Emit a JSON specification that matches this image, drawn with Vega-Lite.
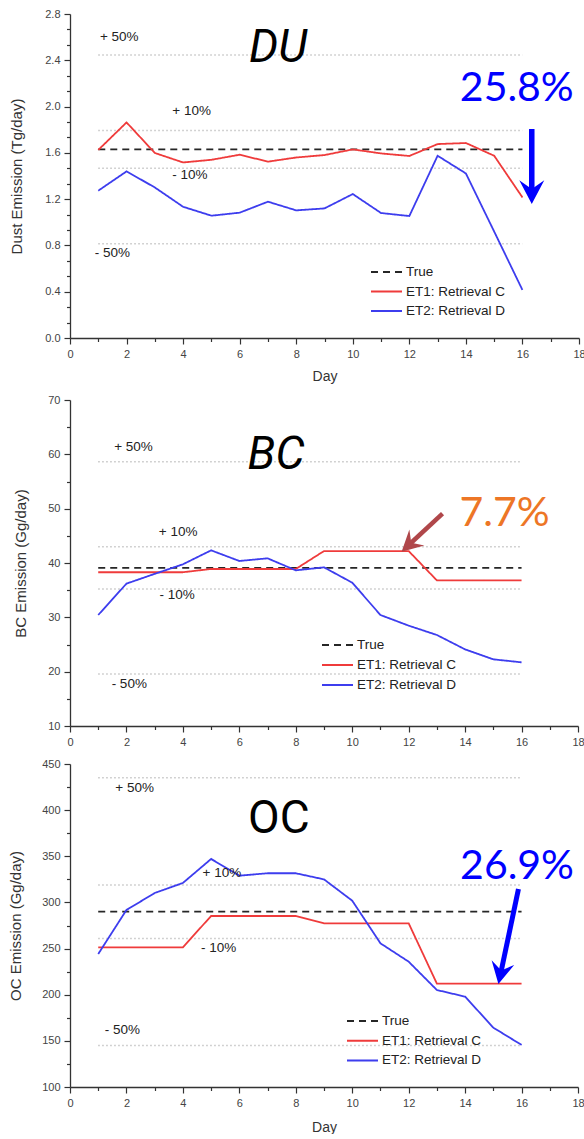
{
  "$schema": "https://vega.github.io/schema/vega-lite/v6.json",
  "padding": {"left": 8, "top": 8, "right": 0, "bottom": 0},
  "background": "white",
  "config": {
    "view": {"stroke": null},
    "axis": {"grid": false, "labelFont": "Liberation Sans", "labelFontSize": 11, "labelColor": "#444", "titleFont": "Liberation Sans", "titleFontWeight": "normal", "titleColor": "#333", "domainColor": "#333", "tickColor": "#333", "domainWidth": 1.3, "tickWidth": 1.2}
  },
  "datasets": {
    "lines": [
      {"panel": "DU", "series": "True", "day": 1, "value": 1.63},
      {"panel": "DU", "series": "True", "day": 16, "value": 1.63},
      {"panel": "DU", "series": "ET1: Retrieval C", "day": 1, "value": 1.625},
      {"panel": "DU", "series": "ET1: Retrieval C", "day": 2, "value": 1.863},
      {"panel": "DU", "series": "ET1: Retrieval C", "day": 3, "value": 1.599},
      {"panel": "DU", "series": "ET1: Retrieval C", "day": 4, "value": 1.517},
      {"panel": "DU", "series": "ET1: Retrieval C", "day": 5, "value": 1.54},
      {"panel": "DU", "series": "ET1: Retrieval C", "day": 6, "value": 1.584},
      {"panel": "DU", "series": "ET1: Retrieval C", "day": 7, "value": 1.524},
      {"panel": "DU", "series": "ET1: Retrieval C", "day": 8, "value": 1.56},
      {"panel": "DU", "series": "ET1: Retrieval C", "day": 9, "value": 1.581},
      {"panel": "DU", "series": "ET1: Retrieval C", "day": 10, "value": 1.63},
      {"panel": "DU", "series": "ET1: Retrieval C", "day": 11, "value": 1.595},
      {"panel": "DU", "series": "ET1: Retrieval C", "day": 12, "value": 1.573},
      {"panel": "DU", "series": "ET1: Retrieval C", "day": 13, "value": 1.676},
      {"panel": "DU", "series": "ET1: Retrieval C", "day": 14, "value": 1.685},
      {"panel": "DU", "series": "ET1: Retrieval C", "day": 15, "value": 1.575},
      {"panel": "DU", "series": "ET1: Retrieval C", "day": 16, "value": 1.215},
      {"panel": "DU", "series": "ET2: Retrieval D", "day": 1, "value": 1.273},
      {"panel": "DU", "series": "ET2: Retrieval D", "day": 2, "value": 1.44},
      {"panel": "DU", "series": "ET2: Retrieval D", "day": 3, "value": 1.301},
      {"panel": "DU", "series": "ET2: Retrieval D", "day": 4, "value": 1.134},
      {"panel": "DU", "series": "ET2: Retrieval D", "day": 5, "value": 1.057},
      {"panel": "DU", "series": "ET2: Retrieval D", "day": 6, "value": 1.083},
      {"panel": "DU", "series": "ET2: Retrieval D", "day": 7, "value": 1.178},
      {"panel": "DU", "series": "ET2: Retrieval D", "day": 8, "value": 1.103},
      {"panel": "DU", "series": "ET2: Retrieval D", "day": 9, "value": 1.12},
      {"panel": "DU", "series": "ET2: Retrieval D", "day": 10, "value": 1.244},
      {"panel": "DU", "series": "ET2: Retrieval D", "day": 11, "value": 1.08},
      {"panel": "DU", "series": "ET2: Retrieval D", "day": 12, "value": 1.054},
      {"panel": "DU", "series": "ET2: Retrieval D", "day": 13, "value": 1.575},
      {"panel": "DU", "series": "ET2: Retrieval D", "day": 14, "value": 1.422},
      {"panel": "DU", "series": "ET2: Retrieval D", "day": 15, "value": 0.92},
      {"panel": "DU", "series": "ET2: Retrieval D", "day": 16, "value": 0.415},
      {"panel": "BC", "series": "True", "day": 1, "value": 39.1},
      {"panel": "BC", "series": "True", "day": 16, "value": 39.1},
      {"panel": "BC", "series": "ET1: Retrieval C", "day": 1, "value": 38.3},
      {"panel": "BC", "series": "ET1: Retrieval C", "day": 2, "value": 38.3},
      {"panel": "BC", "series": "ET1: Retrieval C", "day": 3, "value": 38.3},
      {"panel": "BC", "series": "ET1: Retrieval C", "day": 4, "value": 38.3},
      {"panel": "BC", "series": "ET1: Retrieval C", "day": 5, "value": 38.9},
      {"panel": "BC", "series": "ET1: Retrieval C", "day": 6, "value": 38.9},
      {"panel": "BC", "series": "ET1: Retrieval C", "day": 7, "value": 38.9},
      {"panel": "BC", "series": "ET1: Retrieval C", "day": 8, "value": 38.9},
      {"panel": "BC", "series": "ET1: Retrieval C", "day": 9, "value": 42.2},
      {"panel": "BC", "series": "ET1: Retrieval C", "day": 10, "value": 42.2},
      {"panel": "BC", "series": "ET1: Retrieval C", "day": 11, "value": 42.2},
      {"panel": "BC", "series": "ET1: Retrieval C", "day": 12, "value": 42.2},
      {"panel": "BC", "series": "ET1: Retrieval C", "day": 13, "value": 36.8},
      {"panel": "BC", "series": "ET1: Retrieval C", "day": 14, "value": 36.8},
      {"panel": "BC", "series": "ET1: Retrieval C", "day": 15, "value": 36.8},
      {"panel": "BC", "series": "ET1: Retrieval C", "day": 16, "value": 36.8},
      {"panel": "BC", "series": "ET2: Retrieval D", "day": 1, "value": 30.43},
      {"panel": "BC", "series": "ET2: Retrieval D", "day": 2, "value": 36.2},
      {"panel": "BC", "series": "ET2: Retrieval D", "day": 3, "value": 38.0},
      {"panel": "BC", "series": "ET2: Retrieval D", "day": 4, "value": 39.76},
      {"panel": "BC", "series": "ET2: Retrieval D", "day": 5, "value": 42.33},
      {"panel": "BC", "series": "ET2: Retrieval D", "day": 6, "value": 40.37},
      {"panel": "BC", "series": "ET2: Retrieval D", "day": 7, "value": 40.86},
      {"panel": "BC", "series": "ET2: Retrieval D", "day": 8, "value": 38.65},
      {"panel": "BC", "series": "ET2: Retrieval D", "day": 9, "value": 39.2},
      {"panel": "BC", "series": "ET2: Retrieval D", "day": 10, "value": 36.38},
      {"panel": "BC", "series": "ET2: Retrieval D", "day": 11, "value": 30.43},
      {"panel": "BC", "series": "ET2: Retrieval D", "day": 12, "value": 28.47},
      {"panel": "BC", "series": "ET2: Retrieval D", "day": 13, "value": 26.75},
      {"panel": "BC", "series": "ET2: Retrieval D", "day": 14, "value": 24.1},
      {"panel": "BC", "series": "ET2: Retrieval D", "day": 15, "value": 22.27},
      {"panel": "BC", "series": "ET2: Retrieval D", "day": 16, "value": 21.72},
      {"panel": "OC", "series": "True", "day": 1, "value": 290},
      {"panel": "OC", "series": "True", "day": 16, "value": 290},
      {"panel": "OC", "series": "ET1: Retrieval C", "day": 1, "value": 251.4},
      {"panel": "OC", "series": "ET1: Retrieval C", "day": 2, "value": 251.4},
      {"panel": "OC", "series": "ET1: Retrieval C", "day": 3, "value": 251.4},
      {"panel": "OC", "series": "ET1: Retrieval C", "day": 4, "value": 251.4},
      {"panel": "OC", "series": "ET1: Retrieval C", "day": 5, "value": 285.3},
      {"panel": "OC", "series": "ET1: Retrieval C", "day": 6, "value": 285.3},
      {"panel": "OC", "series": "ET1: Retrieval C", "day": 7, "value": 285.3},
      {"panel": "OC", "series": "ET1: Retrieval C", "day": 8, "value": 285.3},
      {"panel": "OC", "series": "ET1: Retrieval C", "day": 9, "value": 277.4},
      {"panel": "OC", "series": "ET1: Retrieval C", "day": 10, "value": 277.4},
      {"panel": "OC", "series": "ET1: Retrieval C", "day": 11, "value": 277.4},
      {"panel": "OC", "series": "ET1: Retrieval C", "day": 12, "value": 277.4},
      {"panel": "OC", "series": "ET1: Retrieval C", "day": 13, "value": 212},
      {"panel": "OC", "series": "ET1: Retrieval C", "day": 14, "value": 212},
      {"panel": "OC", "series": "ET1: Retrieval C", "day": 15, "value": 212},
      {"panel": "OC", "series": "ET1: Retrieval C", "day": 16, "value": 212},
      {"panel": "OC", "series": "ET2: Retrieval D", "day": 1, "value": 244.1},
      {"panel": "OC", "series": "ET2: Retrieval D", "day": 2, "value": 291.8},
      {"panel": "OC", "series": "ET2: Retrieval D", "day": 3, "value": 310.2},
      {"panel": "OC", "series": "ET2: Retrieval D", "day": 4, "value": 321.1},
      {"panel": "OC", "series": "ET2: Retrieval D", "day": 5, "value": 347.1},
      {"panel": "OC", "series": "ET2: Retrieval D", "day": 6, "value": 329},
      {"panel": "OC", "series": "ET2: Retrieval D", "day": 7, "value": 331.6},
      {"panel": "OC", "series": "ET2: Retrieval D", "day": 8, "value": 331.6},
      {"panel": "OC", "series": "ET2: Retrieval D", "day": 9, "value": 325},
      {"panel": "OC", "series": "ET2: Retrieval D", "day": 10, "value": 301.9},
      {"panel": "OC", "series": "ET2: Retrieval D", "day": 11, "value": 255.7},
      {"panel": "OC", "series": "ET2: Retrieval D", "day": 12, "value": 235.8},
      {"panel": "OC", "series": "ET2: Retrieval D", "day": 13, "value": 205.1},
      {"panel": "OC", "series": "ET2: Retrieval D", "day": 14, "value": 197.9},
      {"panel": "OC", "series": "ET2: Retrieval D", "day": 15, "value": 164.3},
      {"panel": "OC", "series": "ET2: Retrieval D", "day": 16, "value": 145.6}
    ],
    "refs": [
      {"panel": "DU", "level": "+50%", "day": 1, "value": 2.445},
      {"panel": "DU", "level": "+50%", "day": 16, "value": 2.445},
      {"panel": "DU", "level": "+10%", "day": 1, "value": 1.793},
      {"panel": "DU", "level": "+10%", "day": 16, "value": 1.793},
      {"panel": "DU", "level": "-10%", "day": 1, "value": 1.467},
      {"panel": "DU", "level": "-10%", "day": 16, "value": 1.467},
      {"panel": "DU", "level": "-50%", "day": 1, "value": 0.815},
      {"panel": "DU", "level": "-50%", "day": 16, "value": 0.815},
      {"panel": "BC", "level": "+50%", "day": 1, "value": 58.65},
      {"panel": "BC", "level": "+50%", "day": 16, "value": 58.65},
      {"panel": "BC", "level": "+10%", "day": 1, "value": 43.0},
      {"panel": "BC", "level": "+10%", "day": 16, "value": 43.0},
      {"panel": "BC", "level": "-10%", "day": 1, "value": 35.2},
      {"panel": "BC", "level": "-10%", "day": 16, "value": 35.2},
      {"panel": "BC", "level": "-50%", "day": 1, "value": 19.55},
      {"panel": "BC", "level": "-50%", "day": 16, "value": 19.55},
      {"panel": "OC", "level": "+50%", "day": 1, "value": 435},
      {"panel": "OC", "level": "+50%", "day": 16, "value": 435},
      {"panel": "OC", "level": "+10%", "day": 1, "value": 319},
      {"panel": "OC", "level": "+10%", "day": 16, "value": 319},
      {"panel": "OC", "level": "-10%", "day": 1, "value": 261},
      {"panel": "OC", "level": "-10%", "day": 16, "value": 261},
      {"panel": "OC", "level": "-50%", "day": 1, "value": 145},
      {"panel": "OC", "level": "-50%", "day": 16, "value": 145}
    ]
  },
  "columns": 1,
  "spacing": 11,
  "resolve": {"scale": {"color": "independent", "strokeDash": "independent"}, "legend": {"color": "independent", "strokeDash": "independent"}},
  "concat": [
    {
      "width": 509, "height": 324,
      "resolve": {"axis": {"x": "independent", "y": "independent"}},
      "layer": [
        {
          "data": {"name": "refs"},
          "transform": [{"filter": "datum.panel === 'DU'"}],
          "mark": {"type": "line", "color": "#c4c4c4", "strokeWidth": 1.5, "strokeDash": [1.5, 2.5]},
          "encoding": {
            "x": {"field": "day", "type": "quantitative", "scale": {"domain": [0, 18], "nice": false, "zero": false}, "axis": {"orient": "bottom", "values": [1, 3, 5, 7, 9, 11, 13, 15, 17], "labels": false, "domain": false, "tickSize": 3.5, "title": null}},
            "y": {"field": "value", "type": "quantitative", "scale": {"domain": [0, 2.8], "nice": false, "zero": false}, "axis": {"orient": "left", "values": [0.1333, 0.2667, 0.5333, 0.6667, 0.9333, 1.0667, 1.3333, 1.4667, 1.7333, 1.8667, 2.1333, 2.2667, 2.5333, 2.6667], "labels": false, "domain": false, "tickSize": 3.5, "title": null}},
            "detail": {"field": "level"}
          }
        },
        {
          "layer": [
            {
              "data": {"name": "lines"},
              "transform": [{"filter": "datum.panel === 'DU'"}],
              "mark": {"type": "line", "strokeWidth": 1.8},
              "encoding": {
                "x": {"field": "day", "type": "quantitative", "scale": {"domain": [0, 18], "nice": false, "zero": false}, "axis": {"orient": "bottom", "values": [0, 2, 4, 6, 8, 10, 12, 14, 16, 18], "format": "d", "labelFlush": false, "tickSize": 6, "labelPadding": 4, "title": "Day", "titleFontSize": 14, "titlePadding": 10}},
                "y": {"field": "value", "type": "quantitative", "scale": {"domain": [0, 2.8], "nice": false, "zero": false}, "axis": {"orient": "left", "values": [0, 0.4, 0.8, 1.2, 1.6, 2.0, 2.4, 2.8], "format": ".1f", "tickSize": 6, "labelPadding": 4, "title": "Dust Emission (Tg/day)", "titleFontSize": 15, "titlePadding": 20}},
                "color": {"field": "series", "type": "nominal", "scale": {"domain": ["True", "ET1: Retrieval C", "ET2: Retrieval D"], "range": ["#262626", "#EF3B3B", "#3D3DEE"]}, "legend": {"orient": "none", "legendX": 300, "legendY": 251, "title": null, "symbolType": "stroke", "symbolSize": 961, "symbolStrokeWidth": 2, "clipHeight": 14, "rowPadding": 5.5, "labelFont": "Liberation Sans", "labelFontSize": 13.5, "labelColor": "#222", "labelOffset": 3, "padding": 0}},
                "strokeDash": {"field": "series", "type": "nominal", "scale": {"domain": ["True", "ET1: Retrieval C", "ET2: Retrieval D"], "range": [[7, 5], [1, 0], [1, 0]]}, "legend": {"orient": "none", "legendX": 300, "legendY": 251, "title": null, "symbolType": "stroke", "symbolSize": 961, "symbolStrokeWidth": 2, "clipHeight": 14, "rowPadding": 5.5, "labelFont": "Liberation Sans", "labelFontSize": 13.5, "labelColor": "#222", "labelOffset": 3, "padding": 0}}
              }
            },
            {"data": {"values": [{}]}, "mark": {"type": "text", "font": "Roboto", "fontSize": 46, "fontStyle": "italic", "color": "#000", "align": "center", "baseline": "middle"}, "encoding": {"x": {"datum": 7.36}, "y": {"datum": 2.51}, "text": {"value": "DU"}}},
            {"data": {"values": [{}]}, "mark": {"type": "text", "font": "Liberation Sans", "fontSize": 13.5, "color": "#222", "align": "center", "baseline": "middle"}, "encoding": {"x": {"datum": 1.74}, "y": {"datum": 2.604}, "text": {"value": "+ 50%"}}},
            {"data": {"values": [{}]}, "mark": {"type": "text", "font": "Liberation Sans", "fontSize": 13.5, "color": "#222", "align": "center", "baseline": "middle"}, "encoding": {"x": {"datum": 4.3}, "y": {"datum": 1.962}, "text": {"value": "+ 10%"}}},
            {"data": {"values": [{}]}, "mark": {"type": "text", "font": "Liberation Sans", "fontSize": 13.5, "color": "#222", "align": "center", "baseline": "middle"}, "encoding": {"x": {"datum": 4.24}, "y": {"datum": 1.408}, "text": {"value": "- 10%"}}},
            {"data": {"values": [{}]}, "mark": {"type": "text", "font": "Liberation Sans", "fontSize": 13.5, "color": "#222", "align": "center", "baseline": "middle"}, "encoding": {"x": {"datum": 1.5}, "y": {"datum": 0.732}, "text": {"value": "- 50%"}}},
            {"data": {"values": [{}]}, "mark": {"type": "text", "font": "Lato", "fontSize": 41, "color": "#0000FF", "align": "center", "baseline": "middle"}, "encoding": {"x": {"datum": 15.8}, "y": {"datum": 2.152}, "text": {"value": "25.8%"}}},
            {"data": {"values": [{}]}, "mark": {"type": "rule", "color": "#0000FF", "strokeWidth": 5.5}, "encoding": {"x": {"datum": 16.33}, "y": {"datum": 1.806}, "x2": {"datum": 16.33}, "y2": {"datum": 1.26}}},
            {"data": {"values": [{}]}, "mark": {"type": "point", "shape": "M0,0L-1,-1.9L0,-1.2L1,-1.9Z", "filled": true, "opacity": 1, "strokeWidth": 0, "size": 625, "color": "#0000FF", "angle": 0}, "encoding": {"x": {"datum": 16.33}, "y": {"datum": 1.158}}}
          ]
        }
      ]
    },
    {
      "width": 508, "height": 326,
      "resolve": {"axis": {"x": "independent", "y": "independent"}},
      "layer": [
        {
          "data": {"name": "refs"},
          "transform": [{"filter": "datum.panel === 'BC'"}],
          "mark": {"type": "line", "color": "#c4c4c4", "strokeWidth": 1.5, "strokeDash": [1.5, 2.5]},
          "encoding": {
            "x": {"field": "day", "type": "quantitative", "scale": {"domain": [0, 18], "nice": false, "zero": false}, "axis": {"orient": "bottom", "values": [1, 3, 5, 7, 9, 11, 13, 15, 17], "labels": false, "domain": false, "tickSize": 3.5, "title": null}},
            "y": {"field": "value", "type": "quantitative", "scale": {"domain": [10, 70], "nice": false, "zero": false}, "axis": {"orient": "left", "values": [15, 25, 35, 45, 55, 65], "labels": false, "domain": false, "tickSize": 3.5, "title": null}},
            "detail": {"field": "level"}
          }
        },
        {
          "layer": [
            {
              "data": {"name": "lines"},
              "transform": [{"filter": "datum.panel === 'BC'"}],
              "mark": {"type": "line", "strokeWidth": 1.8},
              "encoding": {
                "x": {"field": "day", "type": "quantitative", "scale": {"domain": [0, 18], "nice": false, "zero": false}, "axis": {"orient": "bottom", "values": [0, 2, 4, 6, 8, 10, 12, 14, 16, 18], "format": "d", "labelFlush": false, "tickSize": 6, "labelPadding": 4, "title": null}},
                "y": {"field": "value", "type": "quantitative", "scale": {"domain": [10, 70], "nice": false, "zero": false}, "axis": {"orient": "left", "values": [10, 20, 30, 40, 50, 60, 70], "format": "d", "tickSize": 6, "labelPadding": 4, "title": "BC Emission (Gg/day)", "titleFontSize": 15, "titlePadding": 19}},
                "color": {"field": "series", "type": "nominal", "scale": {"domain": ["True", "ET1: Retrieval C", "ET2: Retrieval D"], "range": ["#262626", "#EF3B3B", "#3D3DEE"]}, "legend": {"orient": "none", "legendX": 251, "legendY": 238, "title": null, "symbolType": "stroke", "symbolSize": 961, "symbolStrokeWidth": 2, "clipHeight": 14, "rowPadding": 6, "labelFont": "Liberation Sans", "labelFontSize": 13.5, "labelColor": "#222", "labelOffset": 3, "padding": 0}},
                "strokeDash": {"field": "series", "type": "nominal", "scale": {"domain": ["True", "ET1: Retrieval C", "ET2: Retrieval D"], "range": [[7, 5], [1, 0], [1, 0]]}, "legend": {"orient": "none", "legendX": 251, "legendY": 238, "title": null, "symbolType": "stroke", "symbolSize": 961, "symbolStrokeWidth": 2, "clipHeight": 14, "rowPadding": 6, "labelFont": "Liberation Sans", "labelFontSize": 13.5, "labelColor": "#222", "labelOffset": 3, "padding": 0}}
              }
            },
            {"data": {"values": [{}]}, "mark": {"type": "text", "font": "Roboto", "fontSize": 46, "fontStyle": "italic", "color": "#000", "align": "center", "baseline": "middle"}, "encoding": {"x": {"datum": 7.3}, "y": {"datum": 59.9}, "text": {"value": "BC"}}},
            {"data": {"values": [{}]}, "mark": {"type": "text", "font": "Liberation Sans", "fontSize": 13.5, "color": "#222", "align": "center", "baseline": "middle"}, "encoding": {"x": {"datum": 2.25}, "y": {"datum": 61.3}, "text": {"value": "+ 50%"}}},
            {"data": {"values": [{}]}, "mark": {"type": "text", "font": "Liberation Sans", "fontSize": 13.5, "color": "#222", "align": "center", "baseline": "middle"}, "encoding": {"x": {"datum": 3.83}, "y": {"datum": 45.76}, "text": {"value": "+ 10%"}}},
            {"data": {"values": [{}]}, "mark": {"type": "text", "font": "Liberation Sans", "fontSize": 13.5, "color": "#222", "align": "center", "baseline": "middle"}, "encoding": {"x": {"datum": 3.8}, "y": {"datum": 34.05}, "text": {"value": "- 10%"}}},
            {"data": {"values": [{}]}, "mark": {"type": "text", "font": "Liberation Sans", "fontSize": 13.5, "color": "#222", "align": "center", "baseline": "middle"}, "encoding": {"x": {"datum": 2.1}, "y": {"datum": 17.67}, "text": {"value": "- 50%"}}},
            {"data": {"values": [{}]}, "mark": {"type": "text", "font": "Lato", "fontSize": 41, "color": "#ED7626", "align": "center", "baseline": "middle"}, "encoding": {"x": {"datum": 15.4}, "y": {"datum": 49.1}, "text": {"value": "7.7%"}}},
            {"data": {"values": [{}]}, "mark": {"type": "rule", "color": "#B0474A", "strokeWidth": 4.5}, "encoding": {"x": {"datum": 13.2}, "y": {"datum": 49.1}, "x2": {"datum": 12.06}, "y2": {"datum": 43.59}}},
            {"data": {"values": [{}]}, "mark": {"type": "point", "shape": "M0,0L-1,-1.9L0,-1.2L1,-1.9Z", "filled": true, "opacity": 1, "strokeWidth": 0, "size": 484, "color": "#B0474A", "angle": 46.9}, "encoding": {"x": {"datum": 11.75}, "y": {"datum": 42.08}}}
          ]
        }
      ]
    },
    {
      "width": 508, "height": 323,
      "resolve": {"axis": {"x": "independent", "y": "independent"}},
      "layer": [
        {
          "data": {"name": "refs"},
          "transform": [{"filter": "datum.panel === 'OC'"}],
          "mark": {"type": "line", "color": "#c4c4c4", "strokeWidth": 1.5, "strokeDash": [1.5, 2.5]},
          "encoding": {
            "x": {"field": "day", "type": "quantitative", "scale": {"domain": [0, 18], "nice": false, "zero": false}, "axis": {"orient": "bottom", "values": [1, 3, 5, 7, 9, 11, 13, 15, 17], "labels": false, "domain": false, "tickSize": 3.5, "title": null}},
            "y": {"field": "value", "type": "quantitative", "scale": {"domain": [100, 450], "nice": false, "zero": false}, "axis": {"orient": "left", "values": [125, 175, 225, 275, 325, 375, 425], "labels": false, "domain": false, "tickSize": 3.5, "title": null}},
            "detail": {"field": "level"}
          }
        },
        {
          "layer": [
            {
              "data": {"name": "lines"},
              "transform": [{"filter": "datum.panel === 'OC'"}],
              "mark": {"type": "line", "strokeWidth": 1.8},
              "encoding": {
                "x": {"field": "day", "type": "quantitative", "scale": {"domain": [0, 18], "nice": false, "zero": false}, "axis": {"orient": "bottom", "values": [0, 2, 4, 6, 8, 10, 12, 14, 16, 18], "format": "d", "labelFlush": false, "tickSize": 6, "labelPadding": 4, "title": "Day", "titleFontSize": 14, "titlePadding": 12}},
                "y": {"field": "value", "type": "quantitative", "scale": {"domain": [100, 450], "nice": false, "zero": false}, "axis": {"orient": "left", "values": [100, 150, 200, 250, 300, 350, 400, 450], "format": "d", "tickSize": 6, "labelPadding": 4, "title": "OC Emission (Gg/day)", "titleFontSize": 15, "titlePadding": 18.2}},
                "color": {"field": "series", "type": "nominal", "scale": {"domain": ["True", "ET1: Retrieval C", "ET2: Retrieval D"], "range": ["#262626", "#EF3B3B", "#3D3DEE"]}, "legend": {"orient": "none", "legendX": 276, "legendY": 250, "title": null, "symbolType": "stroke", "symbolSize": 961, "symbolStrokeWidth": 2, "clipHeight": 14, "rowPadding": 5.7, "labelFont": "Liberation Sans", "labelFontSize": 13.5, "labelColor": "#222", "labelOffset": 3, "padding": 0}},
                "strokeDash": {"field": "series", "type": "nominal", "scale": {"domain": ["True", "ET1: Retrieval C", "ET2: Retrieval D"], "range": [[7, 5], [1, 0], [1, 0]]}, "legend": {"orient": "none", "legendX": 276, "legendY": 250, "title": null, "symbolType": "stroke", "symbolSize": 961, "symbolStrokeWidth": 2, "clipHeight": 14, "rowPadding": 5.7, "labelFont": "Liberation Sans", "labelFontSize": 13.5, "labelColor": "#222", "labelOffset": 3, "padding": 0}}
              }
            },
            {"data": {"values": [{}]}, "mark": {"type": "text", "font": "Roboto", "fontSize": 46, "color": "#000", "align": "center", "baseline": "middle"}, "encoding": {"x": {"datum": 7.4}, "y": {"datum": 390.4}, "text": {"value": "OC"}}},
            {"data": {"values": [{}]}, "mark": {"type": "text", "font": "Liberation Sans", "fontSize": 13.5, "color": "#222", "align": "center", "baseline": "middle"}, "encoding": {"x": {"datum": 2.29}, "y": {"datum": 423.7}, "text": {"value": "+ 50%"}}},
            {"data": {"values": [{}]}, "mark": {"type": "text", "font": "Liberation Sans", "fontSize": 13.5, "color": "#222", "align": "center", "baseline": "middle"}, "encoding": {"x": {"datum": 5.38}, "y": {"datum": 331.6}, "text": {"value": "+ 10%"}}},
            {"data": {"values": [{}]}, "mark": {"type": "text", "font": "Liberation Sans", "fontSize": 13.5, "color": "#222", "align": "center", "baseline": "middle"}, "encoding": {"x": {"datum": 5.27}, "y": {"datum": 250.7}, "text": {"value": "- 10%"}}},
            {"data": {"values": [{}]}, "mark": {"type": "text", "font": "Liberation Sans", "fontSize": 13.5, "color": "#222", "align": "center", "baseline": "middle"}, "encoding": {"x": {"datum": 1.86}, "y": {"datum": 162.1}, "text": {"value": "- 50%"}}},
            {"data": {"values": [{}]}, "mark": {"type": "text", "font": "Lato", "fontSize": 41, "color": "#0000FF", "align": "center", "baseline": "middle"}, "encoding": {"x": {"datum": 15.84}, "y": {"datum": 338}, "text": {"value": "26.9%"}}},
            {"data": {"values": [{}]}, "mark": {"type": "rule", "color": "#0000FF", "strokeWidth": 5}, "encoding": {"x": {"datum": 15.89}, "y": {"datum": 314.6}, "x2": {"datum": 15.27}, "y2": {"datum": 224.3}}},
            {"data": {"values": [{}]}, "mark": {"type": "point", "shape": "M0,0L-1,-1.9L0,-1.2L1,-1.9Z", "filled": true, "opacity": 1, "strokeWidth": 0, "size": 529, "color": "#0000FF", "angle": 11.8}, "encoding": {"x": {"datum": 15.18}, "y": {"datum": 211.6}}}
          ]
        }
      ]
    }
  ]
}
